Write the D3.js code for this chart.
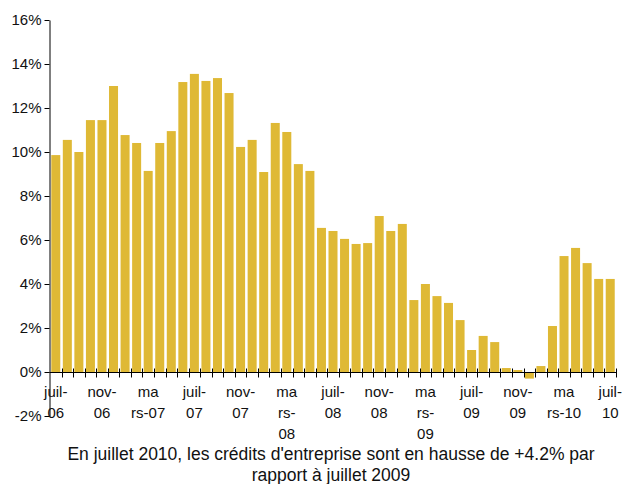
<!DOCTYPE html>
<html>
<head>
<meta charset="utf-8">
<script src="https://cdn.jsdelivr.net/npm/d3@7"></script>
<style>
  body { margin: 0; background: #fff; }
  text { font-family: "Liberation Sans", Arial, sans-serif; fill: #111; }
</style>
</head>
<body>
<div id="chart"></div>
<script>
// Monthly growth of business credit, juil-06 .. juil-10 (49 months)
const values = [
  9.86, 10.55, 10.0, 11.45, 11.45, 13.0, 10.77, 10.41, 9.14, 10.41,
  10.95, 13.18, 13.55, 13.23, 13.36, 12.68, 10.23, 10.55, 9.09, 11.32,
  10.91, 9.45, 9.14, 6.55, 6.41, 6.05, 5.82, 5.86, 7.09, 6.41,
  6.73, 3.27, 4.0, 3.45, 3.14, 2.36, 1.0, 1.64, 1.36, 0.18,
  0.09, -0.3, 0.27, 2.09, 5.27, 5.64, 4.95, 4.23, 4.23
];

// labels every 4 months, already wrapped as in the original
const labelIndex = [0, 4, 8, 12, 16, 20, 24, 28, 32, 36, 40, 44, 48];
const labelLines = [
  ["juil-", "06"], ["nov-", "06"], ["ma", "rs-07"], ["juil-", "07"],
  ["nov-", "07"], ["ma", "rs-", "08"], ["juil-", "08"], ["nov-", "08"],
  ["ma", "rs-", "09"], ["juil-", "09"], ["nov-", "09"], ["ma", "rs-10"],
  ["juil-", "10"]
];

const yTicks = [-2, 0, 2, 4, 6, 8, 10, 12, 14, 16];
const titleLines = [
  "En juillet 2010, les crédits d'entreprise sont en hausse de +4.2% par",
  "rapport à juillet 2009"
];

const width = 623, height = 484;

const svg = d3.select("#chart")
  .append("svg")
  .attr("width", width)
  .attr("height", height);

const x = d3.scaleBand()
  .domain(d3.range(values.length))
  .range([50, 616])
  .paddingInner(0.22)
  .paddingOuter(0.11);

const y = d3.scaleLinear()
  .domain([-2, 16])
  .range([416, 20]);

// bars
svg.append("g")
  .selectAll("rect")
  .data(values)
  .join("rect")
  .attr("x", (d, i) => x(i))
  .attr("y", d => y(Math.max(0, d)))
  .attr("width", x.bandwidth())
  .attr("height", d => Math.abs(y(d) - y(0)))
  .attr("fill", "#dfb935");

// y axis
const yAxis = svg.append("g")
  .attr("transform", "translate(49.5,0)")
  .call(d3.axisLeft(y)
    .tickValues(yTicks)
    .tickSize(5)
    .tickSizeOuter(0)
    .tickPadding(3)
    .tickFormat(d => d + "%"));
yAxis.selectAll("path, line").attr("stroke", "#000");
yAxis.selectAll("text").attr("font-size", 15).attr("font-family", null).attr("fill", "#111");

// x axis line at 0 with crossing ticks at month boundaries
const y0 = Math.round(y(0)) + 0.5;
const step = x.step();
const bounds = d3.range(values.length + 1).map(i => x(0) - step * 0.11 + i * step);

svg.append("line")
  .attr("x1", 49.5).attr("x2", bounds[bounds.length - 1])
  .attr("y1", y0).attr("y2", y0)
  .attr("stroke", "#000");

svg.append("g")
  .selectAll("line")
  .data(bounds.slice(1))
  .join("line")
  .attr("x1", d => Math.round(d) + 0.5)
  .attr("x2", d => Math.round(d) + 0.5)
  .attr("y1", y0 - 4)
  .attr("y2", y0 + 5)
  .attr("stroke", "#000");

// x labels
const xl = svg.append("g")
  .selectAll("text")
  .data(labelIndex)
  .join("text")
  .attr("text-anchor", "middle")
  .attr("font-size", 15)
  .attr("transform", i => `translate(${x(i) + x.bandwidth() / 2},0)`);

xl.each(function (idx, k) {
  d3.select(this).selectAll("tspan")
    .data(labelLines[k])
    .join("tspan")
    .attr("x", 0)
    .attr("y", (d, j) => 397 + j * 21)
    .text(d => d);
});

// caption
svg.append("g")
  .selectAll("text")
  .data(titleLines)
  .join("text")
  .attr("x", 331)
  .attr("y", (d, i) => 460 + i * 20.5)
  .attr("text-anchor", "middle")
  .attr("font-size", 17.5)
  .text(d => d);
</script>
</body>
</html>
